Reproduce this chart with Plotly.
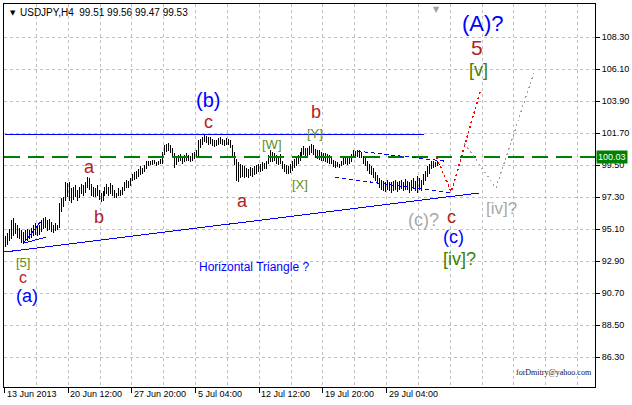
import plotly.graph_objects as go

symbol = "USDJPY,H4"

high = [
    94.65, 94.80, 95.10, 95.70, 95.85, 95.50, 95.40, 95.20, 95.00, 94.90,
    95.00, 95.10, 95.05, 95.20, 95.35, 95.50, 95.30, 95.40, 95.70, 95.85,
    95.90, 95.70, 95.80, 95.60, 95.40, 95.50, 95.40, 96.90, 97.20, 97.30,
    98.30, 98.25, 98.30, 97.90, 98.00, 98.10, 97.80, 98.00, 98.20, 98.10,
    98.30, 98.70, 98.60, 98.20, 98.00, 97.90, 98.10, 97.80, 97.60, 97.70,
    98.00, 98.20, 98.00, 98.25, 98.10, 97.80, 97.60, 97.90, 97.80, 98.00,
    98.30, 98.50, 98.40, 98.60, 98.90, 99.00, 99.10, 99.25, 99.40, 99.30,
    99.50, 99.75, 99.80, 99.75, 99.85, 99.80, 99.70, 99.80, 99.90, 100.40,
    100.90, 100.95, 101.00, 100.90, 100.70, 100.30, 100.10, 100.20, 100.25, 100.10,
    100.20, 100.30, 100.20, 100.15, 100.30, 100.40, 100.50, 101.20, 101.30, 101.45,
    101.56, 101.50, 101.40, 101.45, 101.30, 101.20, 101.25, 101.35, 101.40, 101.30,
    101.25, 101.35, 101.30, 101.20, 100.90, 100.40, 99.90, 99.70, 99.60, 99.50,
    99.40, 99.30, 99.20, 99.35, 99.30, 99.40, 99.50, 99.60, 99.55, 99.70,
    99.65, 99.80, 100.20, 100.53, 100.40, 100.30, 100.20, 100.10, 100.25, 99.80,
    99.60, 99.50, 99.40, 99.60, 99.75, 99.90, 100.00, 100.20, 100.40, 100.70,
    100.80, 100.70, 100.65, 100.80, 100.94, 100.85, 100.60, 100.55, 100.50, 100.40,
    100.35, 100.30, 100.25, 100.20, 100.10, 99.85, 99.75, 99.70, 99.60, 99.80,
    100.00, 100.10, 99.95, 100.10, 100.25, 100.50, 100.45, 100.55, 100.50, 100.40,
    100.10, 99.95, 99.80, 99.60, 99.40, 99.30, 99.00, 98.80, 98.60, 98.50,
    98.40, 98.30, 98.45, 98.35, 98.30, 98.40, 98.50, 98.30, 98.40, 98.50,
    98.35, 98.55, 98.40, 98.30, 98.45, 98.60, 98.40, 98.75, 98.60, 98.50,
    98.90, 99.10, 99.40, 99.60, 99.75, 99.80, 99.70, 99.75, 99.56,
]

low = [
    93.85, 94.00, 94.30, 94.40, 94.60, 94.75, 94.50, 94.40, 94.15, 94.10,
    94.25, 94.30, 94.40, 94.45, 94.60, 94.70, 94.65, 94.70, 94.90, 95.10,
    95.20, 94.95, 95.05, 94.90, 94.80, 94.95, 95.00, 95.20, 96.30, 96.60,
    97.00, 97.30, 97.00, 96.90, 97.10, 97.30, 97.00, 97.20, 97.50, 97.40,
    97.60, 97.90, 97.80, 97.40, 97.30, 97.30, 97.40, 97.10, 96.95, 97.00,
    97.40, 97.50, 97.40, 97.50, 97.40, 97.20, 97.25, 97.35, 97.40, 97.45,
    97.70, 97.90, 97.95, 98.05, 98.40, 98.50, 98.55, 98.65, 98.80, 98.85,
    99.00, 99.25, 99.45, 99.50, 99.50, 99.55, 99.45, 99.50, 99.55, 99.60,
    100.20, 100.40, 100.45, 100.35, 100.10, 99.30, 99.50, 99.70, 99.75, 99.60,
    99.70, 99.80, 99.75, 99.70, 99.80, 99.90, 99.95, 99.98, 100.70, 100.90,
    101.10, 101.00, 100.90, 100.95, 100.80, 100.75, 100.80, 100.90, 100.95, 100.85,
    100.80, 100.90, 100.85, 100.70, 100.00, 99.50, 98.40, 98.33, 98.60, 98.70,
    98.60, 98.70, 98.60, 98.75, 98.70, 98.80, 98.90, 99.00, 99.05, 99.10,
    99.20, 99.25, 99.60, 99.70, 99.70, 99.75, 99.60, 99.50, 99.55, 99.20,
    99.00, 98.90, 98.85, 98.95, 99.10, 99.30, 99.40, 99.60, 99.80, 100.00,
    100.20, 100.10, 100.00, 100.20, 100.30, 100.20, 99.95, 99.90, 99.85, 99.80,
    99.75, 99.70, 99.65, 99.60, 99.55, 99.35, 99.30, 99.35, 99.30, 99.40,
    99.50, 99.55, 99.50, 99.60, 99.70, 99.95, 100.00, 100.05, 100.00, 99.95,
    99.60, 99.40, 99.10, 98.90, 98.80, 98.60, 98.40, 98.20, 97.95, 97.80,
    97.70, 97.65, 97.80, 97.70, 97.60, 97.70, 97.80, 97.65, 97.75, 97.85,
    97.70, 97.80, 97.75, 97.60, 97.70, 97.85, 97.70, 97.60, 97.80, 97.70,
    98.10, 98.40, 98.70, 98.90, 99.20, 99.30, 99.35, 99.40, 99.47,
]

close = [
    94.20, 94.50, 94.95, 95.30, 95.10, 95.00, 94.80, 94.70, 94.40, 94.60,
    94.70, 94.80, 94.70, 95.00, 95.10, 95.20, 94.90, 95.20, 95.50, 95.60,
    95.40, 95.30, 95.50, 95.10, 95.00, 95.30, 95.20, 96.80, 96.70, 97.10,
    98.10, 97.60, 97.40, 97.20, 97.70, 97.50, 97.60, 97.80, 98.00, 97.70,
    98.10, 98.40, 98.00, 97.60, 97.80, 97.50, 97.90, 97.30, 97.20, 97.50,
    97.80, 97.70, 97.90, 97.80, 97.60, 97.40, 97.50, 97.70, 97.60, 97.90,
    98.10, 98.20, 98.30, 98.50, 98.80, 98.70, 98.90, 99.00, 99.20, 99.10,
    99.40, 99.60, 99.70, 99.60, 99.80, 99.65, 99.60, 99.70, 99.80, 100.30,
    100.70, 100.80, 100.70, 100.50, 100.20, 99.60, 99.90, 100.00, 99.90, 99.80,
    100.00, 100.10, 99.90, 100.00, 100.20, 100.00, 100.40, 101.00, 101.10, 101.30,
    101.40, 101.20, 101.30, 101.10, 101.00, 100.90, 101.10, 101.20, 101.10, 101.00,
    101.10, 101.20, 101.00, 100.80, 100.20, 99.80, 99.00, 99.20, 99.00, 98.90,
    99.10, 98.90, 99.00, 99.10, 98.90, 99.20, 99.10, 99.30, 99.40, 99.50,
    99.40, 99.60, 100.00, 100.10, 99.90, 100.10, 99.80, 99.90, 99.70, 99.40,
    99.20, 99.10, 99.30, 99.40, 99.60, 99.70, 99.90, 100.00, 100.30, 100.50,
    100.60, 100.40, 100.30, 100.60, 100.70, 100.40, 100.20, 100.30, 100.00, 100.10,
    99.90, 100.00, 99.80, 99.90, 99.70, 99.50, 99.60, 99.45, 99.50, 99.70,
    99.80, 99.90, 99.70, 100.00, 100.10, 100.30, 100.20, 100.40, 100.30, 100.10,
    99.80, 99.60, 99.30, 99.10, 99.00, 98.80, 98.60, 98.40, 98.10, 98.20,
    98.00, 97.90, 98.20, 97.90, 97.80, 98.10, 98.00, 97.90, 98.20, 98.10,
    97.90, 98.30, 98.00, 97.80, 98.20, 98.00, 97.90, 98.50, 98.10, 98.30,
    98.70, 98.90, 99.20, 99.40, 99.50, 99.60, 99.50, 99.51, 99.53,
]

first_open = 94.40
open_ = [first_open] + close[:-1]
bars = list(range(len(close)))

date_labels = ["13 Jun 2013", "20 Jun 12:00", "27 Jun 20:00", "5 Jul 04:00",
               "12 Jul 12:00", "19 Jul 20:00", "29 Jul 04:00"]
date_label_bars = [-0.5, 31.5, 63.5, 95.5, 127.5, 159.5, 191.5]

price_ticks = [86.30, 88.50, 90.70, 92.90, 95.10, 97.30, 99.50, 101.70, 103.90, 106.10, 108.30]

current_level = 100.03
resistance_level = 101.63
resistance_end_bar = 210.5

support_line = {"bar": [-0.5, 238.0], "price": [93.52, 97.58]}
wedge_upper = {"bar": [9.5, 17.5], "price": [94.21, 95.58]}
wedge_lower = {"bar": [9.5, 20.5], "price": [94.14, 94.55]}
tri_upper = {"bar": [176.5, 220.5], "price": [100.46, 99.77]}
tri_lower = {"bar": [165.5, 224.0], "price": [98.67, 97.57]}
forecast_red = {"bar": [216.5, 224.0, 238.5], "price": [100.05, 97.64, 104.52]}
forecast_gray = {"bar": [230.5, 246.5, 265.5], "price": [101.01, 97.92, 105.83]}

BLUE = "#0000ff"
RED = "#b22222"
GREEN = "#3c8200"
OLIVE = "#5f8c1a"
GRAY = "#a8a8a8"

# wave labels: text, bar, price, color, size
wave_labels = [
    ("(A)?", 240.0, 109.26, BLUE, 22),
    ("5", 237.0, 107.61, RED, 21),
    ("[v]", 237.5, 106.03, GREEN, 18),
    ("(b)", 102.0, 103.97, BLUE, 20),
    ("c", 102.0, 102.46, RED, 18),
    ("b", 156.0, 103.14, RED, 18),
    ("[Y]", 155.5, 101.70, OLIVE, 13),
    ("[W]", 134.0, 100.94, OLIVE, 13),
    ("[X]", 148.0, 98.19, OLIVE, 13),
    ("a", 119.0, 97.02, RED, 18),
    ("a", 42.0, 99.36, RED, 18),
    ("b", 47.0, 95.92, RED, 18),
    ("[5]", 9.0, 92.80, OLIVE, 13),
    ("c", 9.0, 91.76, RED, 16),
    ("(a)", 11.0, 90.52, BLUE, 18),
    ("Horizontal Triangle ?", 125.0, 92.49, BLUE, 12),
    ("(c)?", 210.0, 95.72, GRAY, 18),
    ("c", 224.0, 95.92, RED, 18),
    ("(c)", 225.0, 94.55, BLUE, 18),
    ("[iv]?", 228.0, 93.04, GREEN, 18),
    ("[iv]?", 249.5, 96.54, GRAY, 17),
]

fig = go.Figure()

fig.add_trace(go.Ohlc(
    x=bars, open=open_, high=high, low=low, close=close,
    increasing=dict(line=dict(color="black", width=1)),
    decreasing=dict(line=dict(color="black", width=1)),
    tickwidth=0.25, hoverinfo="skip", showlegend=False,
))

def add_line(d, color, width=1.0, dash="solid"):
    fig.add_trace(go.Scatter(x=d["bar"], y=d["price"], mode="lines",
                             line=dict(color=color, width=width, dash=dash),
                             hoverinfo="skip", showlegend=False))

add_line({"bar": [-0.5, resistance_end_bar], "price": [resistance_level, resistance_level]}, BLUE, 1)
add_line({"bar": [-0.75, 296.25], "price": [current_level, current_level]}, "#008000", 2, "16px,8px")
add_line(support_line, BLUE, 1)
add_line(wedge_upper, BLUE, 1)
add_line(wedge_lower, BLUE, 1)
add_line(tri_upper, BLUE, 1, "4px,3px")
add_line(tri_lower, BLUE, 1, "4px,3px")
add_line(forecast_red, "#ff0000", 1.5, "2px,3px")
add_line(forecast_gray, "#a0a0a0", 1.2, "2px,3px")

ann = []
for text, b, p, col, size in wave_labels:
    ann.append(dict(x=b, y=p, xref="x", yref="y", text=text, showarrow=False,
                    font=dict(family="Liberation Sans", size=size, color=col)))

for lab, b in zip(date_labels, date_label_bars):
    ann.append(dict(x=b, y=0, xref="x", yref="paper", text=lab, showarrow=False,
                    xanchor="left", yanchor="top", xshift=0, yshift=0,
                    font=dict(family="Liberation Sans", size=9, color="black")))

last = len(close) - 1
title = f"{symbol}  {open_[last]:.2f} {high[last]:.2f} {low[last]:.2f} {close[last]:.2f}"
ann.append(dict(x=0, y=1, xref="paper", yref="paper", text=title, showarrow=False,
                xanchor="left", yanchor="top", xshift=14, yshift=-1,
                font=dict(family="Liberation Sans", size=10, color="black")))
ann.append(dict(x=0, y=1, xref="paper", yref="paper", text="▼", showarrow=False,
                xanchor="left", yanchor="top", xshift=4, yshift=-3,
                font=dict(family="DejaVu Sans", size=7, color="black")))
ann.append(dict(x=216.5, y=1, xref="x", yref="paper", text="▼", showarrow=False,
                xanchor="center", yanchor="top", yshift=1,
                font=dict(family="DejaVu Sans", size=8, color="#a0a0a0")))
ann.append(dict(x=1, y=current_level, xref="paper", yref="y", text=f"{current_level:.2f}",
                showarrow=False, xanchor="left", xshift=1, bgcolor="#008000", borderpad=1,
                font=dict(family="Liberation Sans", size=9, color="white")))
ann.append(dict(x=275.5, y=85.27, xref="x", yref="y", text="forDmitry@yahoo.com",
                showarrow=False, font=dict(family="Liberation Serif", size=8, color="#101030")))

grid = dict(showgrid=True, gridcolor="#c0c0c0", griddash="3px,3px", gridwidth=1)

fig.update_layout(
    width=632, height=405,
    margin=dict(l=3, r=35, t=4, b=18),
    paper_bgcolor="white", plot_bgcolor="white",
    font=dict(family="Liberation Sans", size=9, color="black"),
    hovermode=False,
    annotations=ann,
    xaxis=dict(range=[-0.75, 296.25], tickmode="array", tickvals=date_label_bars,
               ticktext=["" for _ in date_label_bars], ticks="outside", ticklen=5,
               tickcolor="black", showline=True, linecolor="black", mirror=True,
               zeroline=False, rangeslider=dict(visible=False), fixedrange=True,
               minor=dict(tickmode="linear", tick0=-0.5, dtick=16, ticks="", **grid),
               **grid),
    yaxis=dict(range=[84.24, 110.57], side="right", tickmode="array", tickvals=price_ticks,
               ticktext=[f"{v:.2f}" for v in price_ticks], ticks="outside", ticklen=4,
               tickcolor="black", showline=True, linecolor="black", mirror=True,
               zeroline=False, fixedrange=True, tickfont=dict(size=9), **grid),
)

crisp_js = """
document.body.style.margin='0px';
document.body.style.overflow='hidden';
function crisp(){
  document.querySelectorAll('.ohlc path, g.ohlclayer path, .trace.ohlc path, .scatterlayer path.js-line, .gridlayer path, .minor-gridlayer path').forEach(function(p){
    p.style.shapeRendering='crispEdges';
  });
}
crisp();
var gd=document.getElementById('{plot_id}');
if(gd && gd.on){ gd.on('plotly_afterplot', crisp); }
"""

fig.write_html("out.html", config={"displayModeBar": False}, post_script=crisp_js)
